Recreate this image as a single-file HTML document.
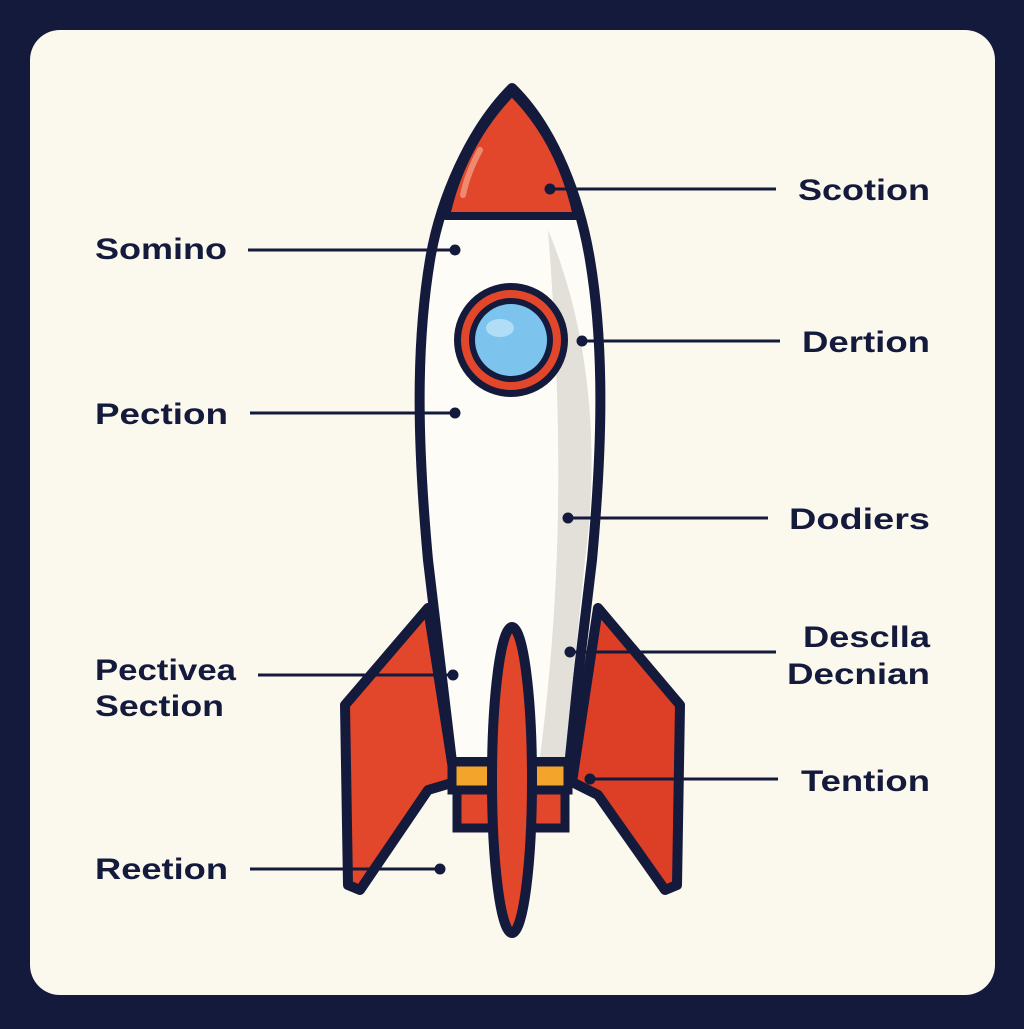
<!DOCTYPE html>
<html><head><style>
html,body{margin:0;padding:0;background:#141a3c;}
.t{font-family:"Liberation Sans",sans-serif;font-weight:bold;font-size:30px;fill:#141a3c;}
</style></head><body>
<svg width="1024" height="1024" viewBox="0 0 1024 1024" xmlns="http://www.w3.org/2000/svg">
<rect width="1024" height="1024" fill="#141a3c"/>
<rect x="30" y="30" width="965" height="965" rx="30" fill="#fbf8ee"/>
<g stroke="#141a3c" stroke-width="10" stroke-linejoin="round">
<path d="M428,608 L345,705 L348,885 L360,890 L428,790 L455,782 Z" fill="#e2472b"/>
<path d="M598,608 L680,705 L677,885 L665,890 L598,795 L572,782 Z" fill="#dc3f26"/>
<path d="M512,88 C470,130 440,200 430,260 C415,350 418,450 428,560 L452,762 L568,762 L592,560 C602,450 605,350 590,260 C580,200 555,130 512,88 Z" fill="#fdfcf7"/>
</g>
<path d="M548,230 C590,330 600,450 585,560 L565,757 L540,757 C560,600 565,450 548,230 Z" fill="#e2e0d8"/>
<path d="M512,92 C475,130 455,175 446,216 L577,216 C568,175 550,130 512,92 Z" fill="#e2472b" stroke="#141a3c" stroke-width="8" stroke-linejoin="round"/>
<path d="M480,150 C472,165 466,180 463,195" stroke="#f08a6e" stroke-width="6" fill="none" stroke-linecap="round"/>
<rect x="452" y="762" width="116" height="28" fill="#f3a42b" stroke="#141a3c" stroke-width="9"/>
<rect x="457" y="790" width="108" height="38" fill="#e2472b" stroke="#141a3c" stroke-width="9"/>
<ellipse cx="512" cy="780" rx="20" ry="153" fill="#e2472b" stroke="#141a3c" stroke-width="10"/>
<circle cx="511" cy="340" r="57" fill="#141a3c"/>
<circle cx="511" cy="340" r="50" fill="#e2472b"/>
<circle cx="511" cy="340" r="42" fill="#141a3c"/>
<circle cx="511" cy="340" r="36" fill="#7cc3ee"/>
<ellipse cx="500" cy="328" rx="14" ry="9" fill="#bfe4f8" opacity="0.8"/>
<g stroke="#141a3c" stroke-width="3" fill="#141a3c">
<line x1="248" y1="250" x2="455" y2="250"/><circle cx="455" cy="250" r="4"/>
<line x1="250" y1="413" x2="455" y2="413"/><circle cx="455" cy="413" r="4"/>
<line x1="258" y1="675" x2="453" y2="675"/><circle cx="453" cy="675" r="4"/>
<line x1="250" y1="869" x2="440" y2="869"/><circle cx="440" cy="869" r="4"/>
<line x1="550" y1="189" x2="776" y2="189"/><circle cx="550" cy="189" r="4"/>
<line x1="582" y1="341" x2="780" y2="341"/><circle cx="582" cy="341" r="4"/>
<line x1="568" y1="518" x2="768" y2="518"/><circle cx="568" cy="518" r="4"/>
<line x1="570" y1="652" x2="776" y2="652"/><circle cx="570" cy="652" r="4"/>
<line x1="590" y1="779" x2="778" y2="779"/><circle cx="590" cy="779" r="4"/>
</g>
<text class="t" x="95" y="259" textLength="132" lengthAdjust="spacingAndGlyphs">Somino</text>
<text class="t" x="95" y="424" textLength="133" lengthAdjust="spacingAndGlyphs">Pection</text>
<text class="t" x="95" y="680" textLength="141" lengthAdjust="spacingAndGlyphs">Pectivea</text>
<text class="t" x="95" y="716" textLength="129" lengthAdjust="spacingAndGlyphs">Section</text>
<text class="t" x="95" y="879" textLength="133" lengthAdjust="spacingAndGlyphs">Reetion</text>
<text class="t" x="798" y="200" textLength="132" lengthAdjust="spacingAndGlyphs">Scotion</text>
<text class="t" x="802" y="352" textLength="128" lengthAdjust="spacingAndGlyphs">Dertion</text>
<text class="t" x="789" y="529" textLength="141" lengthAdjust="spacingAndGlyphs">Dodiers</text>
<text class="t" x="803" y="647" textLength="127" lengthAdjust="spacingAndGlyphs">Desclla</text>
<text class="t" x="787" y="684" textLength="143" lengthAdjust="spacingAndGlyphs">Decnian</text>
<text class="t" x="801" y="791" textLength="129" lengthAdjust="spacingAndGlyphs">Tention</text>
</svg>
</body></html>
